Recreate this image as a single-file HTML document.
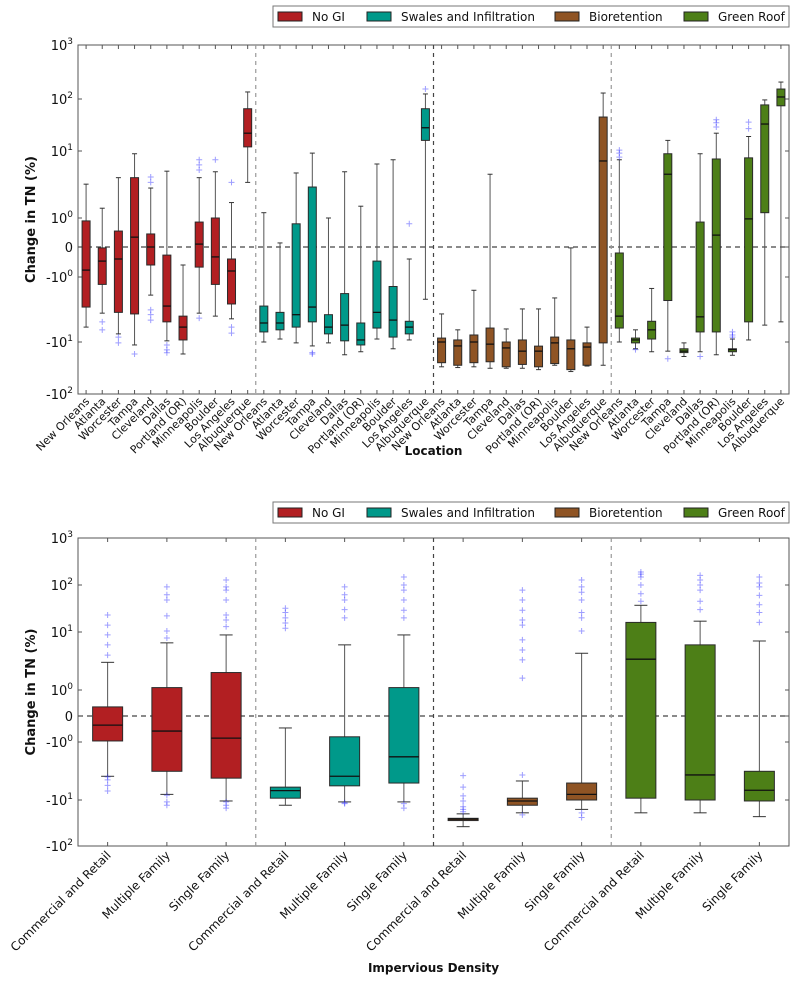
<!DOCTYPE html>
<html><head><meta charset="utf-8">
<style>
body{margin:0;background:#fff;}
svg{display:block;font-family:"DejaVu Sans","Liberation Sans",sans-serif;}
</style></head>
<body>
<svg id="chart" width="800" height="982" viewBox="0 0 800 982" xmlns="http://www.w3.org/2000/svg"></svg>
<script>
// ---------- data ----------
const seriesNames = ["No GI","Swales and Infiltration","Bioretention","Green Roof"];
const seriesColors = ["#b21f22","#00998a","#8f5424","#4d7f17"];
const locations = ["New Orleans","Atlanta","Worcester","Tampa","Cleveland","Dallas","Portland (OR)","Minneapolis","Boulder","Los Angeles","Albuquerque"];
const densities = ["Commercial and Retail","Multiple Family","Single Family"];
const yTickValues = [1000,100,10,1,0,-1,-10,-100];
const yTickLabels = [["10","3"],["10","2"],["10","1"],["10","0"],["0",""],["-10","0"],["-10","1"],["-10","2"]];

// top chart: [whiskerLow, q1, median, q3, whiskerHigh]
const locNoGI = [[-5.9,-2.9,-0.77,0.9,3.2],[-3.6,-1.3,-0.47,-0.03,1.4],[-7.5,-3.5,-0.4,0.55,4.0],[-11.4,-3.7,0.34,4.0,9.1],[-1.9,-0.6,0,0.45,2.8],[-9.6,-4.9,-2.8,-0.27,5.0],[-17,-9.3,-5.9,-4.0,-0.6],[-3.6,-0.67,0.1,0.86,4.0],[-4.0,-1.3,-0.33,1.0,4.9],[-4.4,-2.6,-0.8,-0.4,1.7],[3.4,12,22,65,135]];
const locNoGIOut = [[],[-4.9,-6.5],[-8.4,-10.4],[-17],[4.1,3.4,-3.2,-3.8,-4.6],[-11.4,-14.2,-16.1],[],[7.4,6.2,5.2,-4.3],[7.4],[3.4,-5.9,-7.3],[]];
const locSwales = [[-10,-7.0,-5.1,-2.8,1.2],[-9.0,-6.5,-5.1,-3.5,0.14],[-10.4,-5.9,-3.8,0.8,4.7],[-11.9,-4.9,-2.9,2.9,9.3],[-10.4,-7.5,-5.9,-3.8,1.0],[-17.6,-9.6,-5.5,-1.8,4.9],[-15.4,-11.4,-9.3,-5.1,1.5],[-9.0,-6.1,-3.5,-0.47,6.4],[-13.5,-8.4,-4.6,-1.4,7.4],[-9.3,-7.5,-5.9,-4.8,-0.4],[-2.2,16,28,65,124]];
const locSwalesOut = [[],[],[],[-16,-17],[],[],[],[],[],[0.8],[153]];
const locBio = [[-30,-25,-10,-8.7,-3.7],[-31,-28,-11.9,-9.3,-6.5],[-30,-25,-10,-7.8,-1.6],[-32,-24,-11,-6.1,4.5],[-32,-30,-13,-10,-6.3],[-32,-27,-15,-9.3,-3.1],[-34,-30,-15,-12,-3.1],[-28,-26,-10.4,-8.4,-2.1],[-37,-34,-13.5,-9.3,-0.03],[-29,-28,-12.5,-10.4,-5.9],[-28,-10.4,7.1,45,129]];
const locBioOut = [[],[],[],[],[],[],[],[],[],[],[]];
const locGreen = [[-10,-6.1,-4.0,-0.2,7.4],[-13.5,-10.4,-9.3,-8.7,-6.5],[-15.4,-9.0,-6.5,-4.8,-1.5],[-15,-2.3,4.5,9.1,16],[-19,-16,-15,-13.5,-10.4],[-15.4,-7.0,-4.1,0.86,9.1],[-17.6,-7.0,0.41,7.6,22],[-18,-15.4,-14,-13.5,-9.0],[-9.3,-4.9,0.97,7.9,19],[-5.5,1.2,33,77,96],[-4.9,74,109,153,206]];
const locGreenOut = [[10.4,9.3,8.1],[-14],[],[-21],[],[-19],[40,35,29],[-7.0,-7.8,-8.4],[36,27],[],[]];

// bottom chart
const denNoGI = [[-3.9,-0.96,-0.35,0.35,3.0],[-8,-3.2,-0.58,1.1,6.5],[-10.5,-4.2,-0.85,2.0,8.9]];
const denNoGIOut = [[23,14,8.9,6,4,-4,-4.5,-5.6,-7],[91,62,48,22,10.5,7.9,-8.3,-11,-13],[128,91,78,48,23,18,13,-11,-13,-15]];
const denSwales = [[-13,-9.3,-6.9,-6,-0.46],[-11,-5.7,-3.9,-0.8,6],[-11,-5.1,-1.8,1.1,8.9]];
const denSwalesOut = [[32,26,20,15.5,12],[91,62,48,30,20,-11.5,-12],[148,100,78,48,29,20,-12,-15]];
const denBio = [[-38,-28,-26,-25,-20],[-19,-13,-10.5,-9.3,-4.7],[-16,-10,-8,-5.1,4.3]];
const denBioOut = [[-3.8,-6,-8.5,-10.5,-14,-16,-18],[78,48,29,18,14,7.3,4.9,3.3,1.6,-3.7,-21],[128,91,70,48,26,20,10.5,-19,-24]];
const denGreen = [[-19,-9.3,3.4,16,37],[-19,-10,-3.7,6,17],[-23,-10.5,-6.8,-3.2,7]];
const denGreenOut = [[189,170,148,100,65,45],[160,128,100,78,45,30],[148,110,91,60,38,26,16]];

// ---------- drawing ----------
const NS="http://www.w3.org/2000/svg";
const svg=document.getElementById('chart');
function mk(tag,attrs,parent){const e=document.createElementNS(NS,tag);for(const k in attrs)e.setAttribute(k,attrs[k]);(parent||svg).appendChild(e);return e;}

function makeY(px){ // px: pixel positions of yTickValues
  return function(v){
    if(v===0) return px[4];
    const s=v>0?1:-1, a=Math.abs(v);
    if(a<=1){return s>0? px[4]+(px[3]-px[4])*a : px[4]+(px[5]-px[4])*a;}
    const lg=Math.log10(a); let d=Math.min(Math.floor(lg),2); const f=lg-d;
    let i0,i1;
    if(s>0){i0=3-d;i1=i0-1;} else {i0=5+d;i1=i0+1; if(i1>7){i1=7;i0=6;}}
    return px[i0]+(px[i1]-px[i0])*(s>0?f:(lg-(i0-5)));
  };
}

function panel(cfg){
  const g=mk('g',{},svg);
  
  
  const L=78,R=789,T=cfg.top,B=cfg.bottom;
  const y=makeY(cfg.tickPx);
  const n=cfg.cats.length*4, step=(R-L)/n;
  const xc=i=>L+step*(i+0.5);
  // frame
  const fr=mk('rect',{x:L,y:T,width:R-L,height:B-T,fill:'none',stroke:'#555','stroke-width':1},g);
   
  // zero line
  const z=mk('line',{x1:L,x2:R,y1:y(0),y2:y(0),stroke:'#444','stroke-width':1.2,'stroke-dasharray':'5,4'},g);
   
  // dividers
  for(let k=1;k<4;k++){
    const xx=L+step*cfg.cats.length*k;
    const dl=mk('line',{x1:xx,x2:xx,y1:T,y2:B,stroke:k===2?'#444':'#999','stroke-width':1.2,'stroke-dasharray':'4,4'},g);
     
  }
  // y ticks
  yTickValues.forEach((v,i)=>{
    const yy=y(v);
    mk('line',{x1:L,x2:L+4,y1:yy,y2:yy,stroke:'#555'},g);
    mk('line',{x1:R-4,x2:R,y1:yy,y2:yy,stroke:'#555'},g);
    const t=mk('text',{x:73,y:yy+5,'text-anchor':'end','font-size':13,fill:'#111'},g);
     
    t.appendChild(document.createTextNode(yTickLabels[i][0]));
    if(yTickLabels[i][1]){const s=mk('tspan',{dy:-6,'font-size':9},t);s.textContent=yTickLabels[i][1];}
  });
  // y title
  const yt=mk('text',{x:0,y:0,transform:`translate(35,${(T+B)/2}) rotate(-90)`,'text-anchor':'middle','font-size':13,'font-weight':'bold',fill:'#111'},g);
   
  yt.textContent='Change in TN (%)';
  // x title
  const xt=mk('text',{x:(L+R)/2,y:cfg.xTitleY,'text-anchor':'middle','font-size':12,'font-weight':'bold',fill:'#111'},g);
   
  xt.textContent=cfg.xTitle;
  // boxes
  const bw=cfg.boxW, cw=cfg.capW;
  cfg.data.forEach((arr,si)=>{
    arr.forEach((b,ci)=>{
      const idx=si*cfg.cats.length+ci, x=xc(idx);
      mk('line',{x1:x,x2:x,y1:B,y2:B-4,stroke:'#555'},g);
      mk('line',{x1:x,x2:x,y1:T,y2:T+4,stroke:'#555'},g);
      const bg=mk('g',{},g);
      
      
      const [lo,q1,md,q3,hi]=b;
      mk('line',{x1:x,x2:x,y1:y(hi),y2:y(q3),stroke:'#555','stroke-width':1},bg);
      mk('line',{x1:x,x2:x,y1:y(q1),y2:y(lo),stroke:'#555','stroke-width':1},bg);
      mk('line',{x1:x-cw/2,x2:x+cw/2,y1:y(hi),y2:y(hi),stroke:'#333','stroke-width':1},bg);
      mk('line',{x1:x-cw/2,x2:x+cw/2,y1:y(lo),y2:y(lo),stroke:'#333','stroke-width':1},bg);
      mk('rect',{x:x-bw/2,y:y(q3),width:bw,height:Math.max(1,y(q1)-y(q3)),fill:seriesColors[si],stroke:'#2a2a2a','stroke-width':1},bg);
      mk('line',{x1:x-bw/2,x2:x+bw/2,y1:y(md),y2:y(md),stroke:'#111','stroke-width':1.3},bg);
      cfg.outs[si][ci].forEach(o=>{
        const yy=y(o);
        mk('path',{d:`M${x-3},${yy}h6M${x},${yy-3}v6`,stroke:'rgba(40,40,255,0.45)','stroke-width':1},bg);
      });
    });
  });
  // x labels
  for(let si=0;si<4;si++) cfg.cats.forEach((c,ci)=>{
    const x=xc(si*cfg.cats.length+ci)+4, yy=cfg.labelY;
    const t=mk('text',{x:x,y:yy,transform:`rotate(-45 ${x} ${yy})`,'text-anchor':'end','font-size':cfg.labelFs,fill:'#111'},g);
     
    t.textContent=c;
  });
  // legend
  const lg=mk('g',{},g);
   
  const ly=cfg.legendY;
  mk('rect',{x:273,y:ly,width:516,height:21,fill:'#fff',stroke:'#777','stroke-width':1},lg);
  const lx=[278,367,555,684];
  seriesNames.forEach((s,i)=>{
    const e=mk('g',{},lg);
     
    mk('rect',{x:lx[i],y:ly+6,width:24,height:9,fill:seriesColors[i],stroke:'#222'},e);
    const t=mk('text',{x:lx[i]+34,y:ly+15,'font-size':12,fill:'#111'},e);t.textContent=s;
  });
}

panel({name:'location-panel',cats:locations,top:45,bottom:394,tickPx:[45,99,151,218,247,277,342,394],
  data:[locNoGI,locSwales,locBio,locGreen],outs:[locNoGIOut,locSwalesOut,locBioOut,locGreenOut],
  boxW:8,capW:5,labelY:402,labelFs:11,xTitle:'Location',xTitleY:455,legendY:6});
panel({name:'density-panel',cats:densities,top:538,bottom:846,tickPx:[538,585,632,690,716,742,800,846],
  data:[denNoGI,denSwales,denBio,denGreen],outs:[denNoGIOut,denSwalesOut,denBioOut,denGreenOut],
  boxW:30,capW:13,labelY:856,labelFs:12,xTitle:'Impervious Density',xTitleY:972,legendY:502});
</script>
</body></html>
